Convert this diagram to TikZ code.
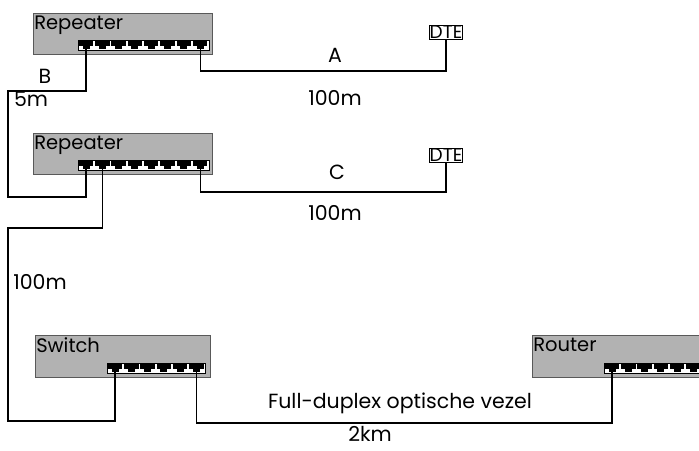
\documentclass[tikz,border=0pt]{standalone}
\usepackage{fontspec}
\setmainfont{Poppins}
\usepackage{tikz}
\usetikzlibrary{positioning}

\begin{document}
\begin{tikzpicture}[x=1pt, y=-1pt,
  device/.style={rectangle, draw=black!65, fill=gray!60, line width=0.8pt, inner sep=0pt},
  devname/.style={anchor=north west, inner xsep=1.5pt, inner ysep=3pt, font=\fontsize{19.5}{19.5}\selectfont},
  strip/.style={rectangle, draw=black, fill=white, line width=0.8pt, inner sep=0pt, minimum height=10pt},
  dte/.style={rectangle, draw, line width=0.8pt, inner sep=0.5pt, font=\fontsize{18.5}{18.5}\selectfont},
  cable/.style={line width=1.2pt},
  lbl/.style={inner sep=0pt, font=\fontsize{20.5}{20.5}\selectfont}
]
\useasboundingbox (0,0) rectangle (699,450);
\clip (0,0) rectangle (699,450);

% --------- REPEATER 1 ----------
\node[device, minimum width=179pt, minimum height=41pt] (rep1) at (122.5,33.5) {};
\node[devname] at (rep1.north west) {Repeater};
\node[strip, minimum width=131pt] (rep1s) at (143.5,45) {};
\foreach \i in {1,...,8} {
  \fill ({86+16.3*(\i-1)-7.2},41.3) rectangle ({86+16.3*(\i-1)+7.2},46);
  \fill ({86+16.3*(\i-1)-3.5},46) rectangle ({86+16.3*(\i-1)+3.5},48.7);
  \coordinate (rep1-\i) at ({86+16.3*(\i-1)},48.7);
}

% --------- REPEATER 2 ----------
\node[device, minimum width=179pt, minimum height=41pt] (rep2) at (122.5,153.5) {};
\node[devname] at (rep2.north west) {Repeater};
\node[strip, minimum width=131pt] (rep2s) at (143.5,165) {};
\foreach \i in {1,...,8} {
  \fill ({86+16.3*(\i-1)-7.2},161.3) rectangle ({86+16.3*(\i-1)+7.2},166);
  \fill ({86+16.3*(\i-1)-3.5},166) rectangle ({86+16.3*(\i-1)+3.5},168.7);
  \coordinate (rep2-\i) at ({86+16.3*(\i-1)},168.7);
}

% --------- SWITCH ----------
\node[device, minimum width=175pt, minimum height=42pt] (sw) at (122.5,356) {};
\node[devname] at (sw.north west) {Switch};
\node[strip, minimum width=98pt] (sws) at (156,368) {};
\foreach \i in {1,...,6} {
  \fill ({115+16.3*(\i-1)-7.2},364.3) rectangle ({115+16.3*(\i-1)+7.2},369);
  \fill ({115+16.3*(\i-1)-3.5},369) rectangle ({115+16.3*(\i-1)+3.5},371.7);
  \coordinate (sw-\i) at ({115+16.3*(\i-1)},371.7);
}

% --------- ROUTER ----------
\node[device, minimum width=175pt, minimum height=42pt] (rt) at (619.5,356) {};
\node[devname] at (rt.north west) {Router};
\node[strip, minimum width=98pt] (rts) at (653,368) {};
\foreach \i in {1,...,6} {
  \fill ({612+16.3*(\i-1)-7.2},364.3) rectangle ({612+16.3*(\i-1)+7.2},369);
  \fill ({612+16.3*(\i-1)-3.5},369) rectangle ({612+16.3*(\i-1)+3.5},371.7);
  \coordinate (rt-\i) at ({612+16.3*(\i-1)},371.7);
}

% --------- DTEs ----------
\node[dte] (dte1) at (446,32) {DTE};
\node[dte] (dte2) at (446,155.5) {DTE};

% bends
\coordinate (cA) at (446,71);
\coordinate (cB1) at (8,91);
\coordinate (cB2) at (8,197);
\coordinate (cC) at (446,192);
\coordinate (cD1) at (8,228);
\coordinate (cD2) at (8,421);
\coordinate (cF) at (612,423);

% cables
\draw[cable] (rep1-8) |- (cA) -- (dte1);
\draw[cable] (rep1-1) |- (cB1) -- (cB2) -| (rep2-1);
\draw[cable] (rep2-8) |- (cC) -- (dte2);
\draw[cable] (rep2-2) |- (cD1) -- (cD2) -| (sw-1);
\draw[cable] (sw-6) |- (cF) -- (rt-1);

% labels
\node[lbl] (la) at (335,55) {A};
\node[lbl] (la2) at (335,98) {100m};
\node[lbl] (lb) at (45,76) {B};
\node[lbl] (lb2) at (31,99) {5m};
\node[lbl] (lc) at (337,172) {C};
\node[lbl] (lc2) at (335,213) {100m};
\node[lbl] (ld) at (40,282) {100m};
\node[lbl] (lf) at (400,403) {Full-duplex optische vezel};
\node[lbl] (lf2) at (370,434) {2km};

\end{tikzpicture}
\end{document}
